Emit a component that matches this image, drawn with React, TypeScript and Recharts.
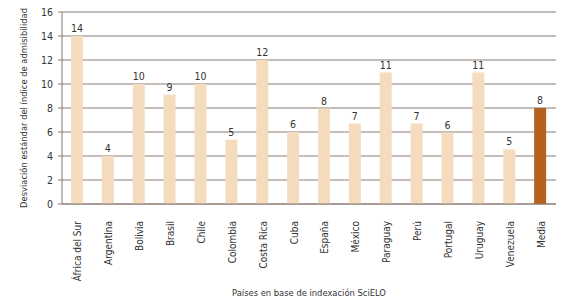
import React from 'react';
import { BarChart, Bar, XAxis, YAxis, CartesianGrid, Cell, LabelList, Label } from 'recharts';

const countries = ['África del Sur', 'Argentina', 'Bolivia', 'Brasil', 'Chile', 'Colombia', 'Costa Rica', 'Cuba', 'España', 'México', 'Paraguay', 'Perú', 'Portugal', 'Uruguay', 'Venezuela', 'Media'];
const values = [14, 4, 10, 9.1, 10, 5.35, 12, 6, 7.95, 6.7, 10.95, 6.7, 5.95, 10.95, 4.55, 8];
const yTicks = [0, 2, 4, 6, 8, 10, 12, 14, 16];
const yTitle = 'Desviación estándar del índice de admisibilidad';
const xTitle = 'Países en base de indexación SciELO';

const data = countries.map((name, i) => ({ name, value: values[i] }));

const FONT = '"DejaVu Sans Condensed", "Open Sans", sans-serif';
const TEXT = '#333333';

const XTick = (props: any) => {
  const { x, y, payload } = props;
  return (
    <text
      x={0}
      y={0}
      transform={`translate(${x + 0.5},${y + 9}) rotate(-90)`}
      textAnchor="end"
      dominantBaseline="central"
      fontSize={10}
      fontFamily={FONT}
      fill={TEXT}
    >
      {payload.value}
    </text>
  );
};

export default function App() {
  return (
    <div style={{ position: 'absolute', left: 0, top: 0, background: '#fff' }}>
      <BarChart width={567} height={300} data={data} margin={{ top: 12, right: 11, bottom: 0, left: 0 }} barSize={12}>
        <CartesianGrid vertical={false} stroke="#8a7b72" strokeWidth={1} />
        <XAxis
          dataKey="name"
          interval={0}
          tickLine={false}
          axisLine={{ stroke: '#8a7b72' }}
          height={96}
          tick={<XTick />}
        >
          <Label value={xTitle} position="insideBottom" offset={4} fontSize={9.3} fontFamily={FONT} fill={TEXT} />
        </XAxis>
        <YAxis
          domain={[0, 16]}
          ticks={yTicks}
          width={62}
          tickSize={4}
          tickMargin={5}
          axisLine={{ stroke: '#8a7b72' }}
          tickLine={{ stroke: '#8a7b72' }}
          tick={{ fontSize: 10.5, fontFamily: FONT, fill: TEXT }}
        >
          <Label value={yTitle} angle={-90} position="center" dx={-7} fontSize={9.3} fontFamily={FONT} fill={TEXT} />
        </YAxis>
        <Bar dataKey="value" isAnimationActive={false}>
          {data.map((d, i) => (
            <Cell key={d.name} fill={i === data.length - 1 ? '#b5611d' : '#f5dcbf'} />
          ))}
          <LabelList
            dataKey="value"
            position="top"
            offset={4}
            formatter={(v: any) => Math.round(Number(v))}
            style={{ fontSize: 10.5, fontFamily: FONT, fill: TEXT }}
          />
        </Bar>
      </BarChart>
    </div>
  );
}
